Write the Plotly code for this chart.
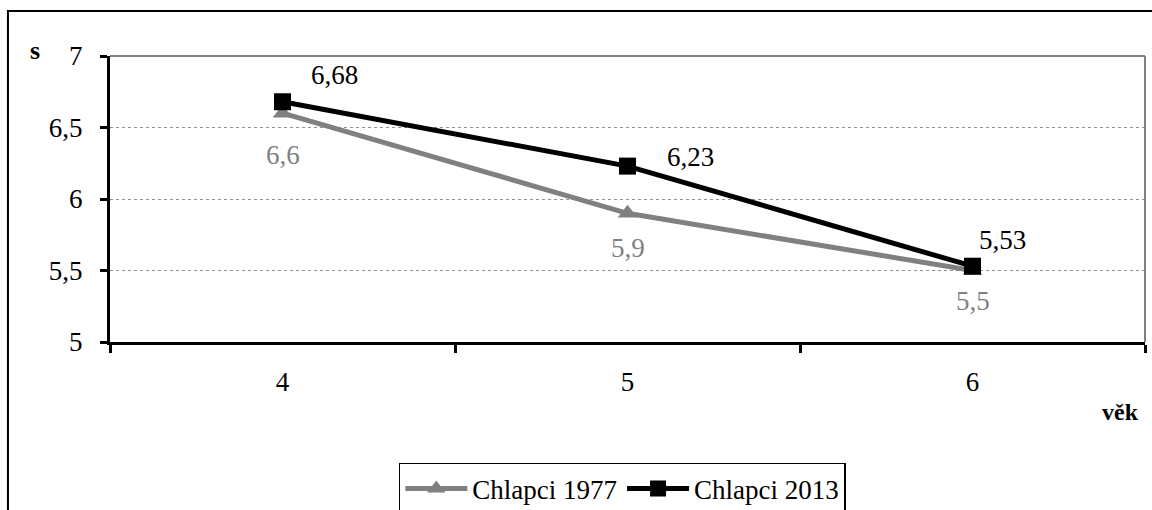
import plotly.graph_objects as go

# Age categories and mean values for the two cohorts
ages = ["4", "5", "6"]
boys_1977 = [6.6, 5.9, 5.5]
boys_2013 = [6.68, 6.23, 5.53]
y_ticks = [5, 5.5, 6, 6.5, 7]

FONT = "Liberation Serif"
GRAY = "#808080"
SIZE = 27


def fmt(v):
    return f"{v:g}".replace(".", ",")


fig = go.Figure()

fig.add_trace(go.Scatter(
    x=ages, y=boys_1977, name="Chlapci 1977", mode="lines+markers",
    line=dict(color=GRAY, width=5),
    marker=dict(symbol="triangle-up", size=17, color=GRAY),
))
fig.add_trace(go.Scatter(
    x=ages, y=boys_2013, name="Chlapci 2013", mode="lines+markers",
    line=dict(color="black", width=5),
    marker=dict(symbol="square", size=17, color="black"),
))

# Value labels: 1977 below the points, 2013 above-right.
# Category positions are given by index on the category axis.
shifts_1977 = [(0, -42), (0, -35), (0, -30)]
shifts_2013 = [(52, 27), (63, 9), (30, 26)]
for i, (v, (dx, dy)) in enumerate(zip(boys_1977, shifts_1977)):
    fig.add_annotation(x=i, y=v, text=fmt(v), showarrow=False,
                       xshift=dx, yshift=dy,
                       font=dict(family=FONT, size=SIZE, color=GRAY))
for i, (v, (dx, dy)) in enumerate(zip(boys_2013, shifts_2013)):
    fig.add_annotation(x=i, y=v, text=fmt(v), showarrow=False,
                       xshift=dx, yshift=dy,
                       font=dict(family=FONT, size=SIZE, color="black"))

# Axis titles
fig.add_annotation(xref="paper", yref="paper", x=-0.0725, y=1.018,
                   xanchor="center", yanchor="middle",
                   text="<b>s</b>", showarrow=False,
                   font=dict(family=FONT, size=26, color="black"))
fig.add_annotation(xref="paper", yref="paper", x=0.976, y=-0.245,
                   xanchor="center", yanchor="middle",
                   text="<b>věk</b>", showarrow=False,
                   font=dict(family=FONT, size=24, color="black"))

# Plot-area border (top and right) and outer chart frame
fig.add_shape(type="line", xref="paper", yref="paper", x0=0, x1=1, y0=1, y1=1,
              line=dict(color=GRAY, width=2))
fig.add_shape(type="line", xref="paper", yref="paper", x0=1, x1=1, y0=0, y1=1,
              line=dict(color=GRAY, width=2))
fig.add_shape(type="rect", xref="paper", yref="paper",
              x0=-0.0986, x1=1.3, y0=-1.0, y1=1.1573,
              line=dict(color="black", width=2))

fig.update_layout(
    width=1152, height=510, autosize=False,
    margin=dict(l=110, r=7, t=56, b=168, autoexpand=False),
    paper_bgcolor="white", plot_bgcolor="white",
    separators=", ",
    font=dict(family=FONT, size=SIZE, color="black"),
    showlegend=True,
    legend=dict(
        orientation="h", x=0.495, xanchor="center", y=-0.423, yanchor="top",
        bordercolor="black", borderwidth=1.5, bgcolor="white",
        font=dict(family=FONT, size=SIZE, color="black"),
        itemwidth=62,
    ),
    xaxis=dict(
        type="category", range=[-0.5, 2.5], tickson="boundaries",
        ticks="outside", ticklen=8, tickwidth=3, tickcolor="black",
        showline=True, linecolor="black", linewidth=3,
        showgrid=False, zeroline=False,
        ticklabelstandoff=14,
        tickfont=dict(family=FONT, size=SIZE, color="black"),
    ),
    yaxis=dict(
        range=[5, 7], tickvals=y_ticks,
        ticks="outside", ticklen=7, tickwidth=3, tickcolor="black",
        showline=True, linecolor="black", linewidth=3,
        showgrid=True, gridcolor="#909090", gridwidth=1, griddash="dot",
        zeroline=False, ticklabelstandoff=12,
        tickfont=dict(family=FONT, size=SIZE, color="black"),
    ),
)

fig.write_html("out.html")
